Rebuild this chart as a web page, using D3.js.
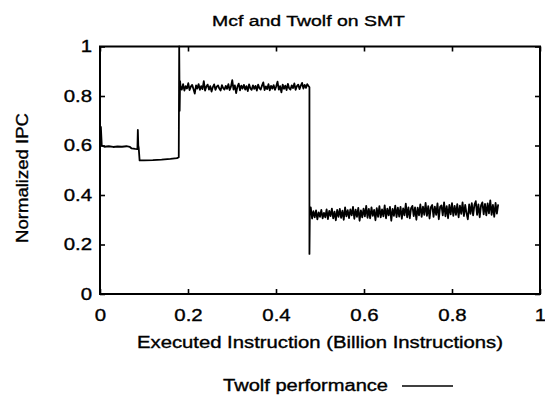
<!DOCTYPE html>
<html lang="en">
<head>
<meta charset="UTF-8">
<title>Mcf and Twolf on SMT</title>
<script src="https://d3js.org/d3.v7.min.js"></script>
<style>
  html, body { margin: 0; padding: 0; background: #fff; }
  svg text { font-family: "Liberation Sans", Arial, sans-serif; fill: #000; stroke: #000; stroke-width: 0.35px; }
</style>
</head>
<body>
<svg id="chart" width="545" height="401"></svg>
<script>
// axis ticks
const xTicks = [0, 0.2, 0.4, 0.6, 0.8, 1];
const yTicks = [0, 0.2, 0.4, 0.6, 0.8, 1];

// start-up phases, read point by point: [instructions (billions), normalized IPC]
const startPoints = [
  [0, 0.6], [0.002, 0.675], [0.004, 0.6], [0.01, 0.595], [0.02, 0.597], [0.03, 0.594],
  [0.04, 0.596], [0.05, 0.595], [0.06, 0.597], [0.068, 0.594], [0.072, 0.588],
  [0.08, 0.586], [0.085, 0.585], [0.086, 0.663], [0.087, 0.6], [0.088, 0.59],
  [0.09, 0.54], [0.1, 0.54], [0.12, 0.541], [0.14, 0.543], [0.16, 0.546],
  [0.175, 0.549], [0.179, 0.553], [0.18, 1.0], [0.181, 0.74], [0.182, 0.86]
];

// high phase (0.183 .. 0.474), evenly spaced samples
const highRange = [0.183, 0.474];
const highValues = [
  0.84,0.826,0.848,0.822,0.84,0.83,0.852,0.824,0.838,0.845,
  0.828,0.81,0.843,0.83,0.848,0.825,0.84,0.828,0.86,0.822,
  0.838,0.846,0.826,0.84,0.818,0.836,0.847,0.825,0.838,0.843,
  0.83,0.822,0.844,0.832,0.826,0.841,0.829,0.848,0.824,0.838,
  0.864,0.826,0.843,0.812,0.838,0.85,0.823,0.842,0.83,0.845,
  0.826,0.84,0.82,0.847,0.831,0.825,0.843,0.829,0.841,0.822,
  0.846,0.832,0.826,0.842,0.855,0.824,0.839,0.828,0.848,0.823,
  0.841,0.83,0.844,0.825,0.839,0.858,0.826,0.84,0.815,0.846,
  0.829,0.842,0.824,0.849,0.831,0.826,0.843,0.832,0.851,0.825,
  0.84,0.846,0.828,0.842,0.853,0.83,0.845,0.833,0.848,0.84
];

// the drop
const dropPoints = [[0.476, 0.835], [0.476, 0.162], [0.477, 0.35]];

// low phase (0.479 .. 0.905)
const lowRange = [0.479, 0.905];
const lowValues = [
  0.35,0.305,0.335,0.31,0.338,0.302,0.33,0.312,0.34,0.306,0.328,
  0.31,0.342,0.303,0.336,0.315,0.345,0.306,0.333,0.298,0.34,0.312,
  0.344,0.308,0.337,0.3,0.35,0.314,0.339,0.307,0.342,0.318,0.352,
  0.304,0.341,0.312,0.348,0.296,0.338,0.31,0.345,0.314,0.356,0.308,
  0.344,0.306,0.35,0.316,0.34,0.298,0.347,0.312,0.355,0.31,0.342,
  0.314,0.358,0.306,0.345,0.318,0.352,0.296,0.344,0.316,0.357,0.311,
  0.349,0.313,0.352,0.304,0.346,0.318,0.365,0.31,0.35,0.306,0.347,
  0.356,0.315,0.35,0.3,0.349,0.318,0.362,0.312,0.353,0.32,0.368,
  0.316,0.355,0.305,0.351,0.36,0.312,0.353,0.32,0.366,0.302,0.352,
  0.358,0.318,0.37,0.314,0.355,0.306,0.36,0.322,0.367,0.316,0.356,
  0.32,0.363,0.31,0.357,0.324,0.37,0.315,0.36,0.326,0.302,0.362,
  0.324,0.367,0.318,0.36,0.375,0.32,0.362,0.31,0.358,0.37,0.322,
  0.364,0.318,0.366,0.326,0.378,0.32,0.36,0.312,0.368,0.325,0.362
];

function spread(range, values) {
  const ix = d3.scaleLinear().domain([0, values.length - 1]).range(range);
  return values.map((v, i) => [ix(i), v]);
}

const series = [].concat(
  startPoints,
  spread(highRange, highValues),
  dropPoints,
  spread(lowRange, lowValues)
);

const svg = d3.select("#chart");
const plotL = 100, plotR = 540, plotT = 46.5, plotB = 294;

const x = d3.scaleLinear().domain([0, 1]).range([plotL, plotR]);
const y = d3.scaleLinear().domain([0, 1]).range([plotB, plotT]);
const fmt = d3.format("~g");

// data line
svg.append("path")
  .datum(series)
  .attr("fill", "none")
  .attr("stroke", "#000")
  .attr("stroke-width", 1.8)
  .attr("stroke-linejoin", "round")
  .attr("d", d3.line().x(d => x(d[0])).y(d => y(d[1])));

// axes, ticks pointing inward on all four sides
function styleAxis(g) {
  g.select(".domain").remove();
  g.selectAll(".tick line").attr("stroke", "#000").attr("stroke-width", 1.6);
  g.selectAll(".tick text")
    .attr("fill", "#000")
    .style("font-size", "17px")
    .each(function() {
      const w = this.getComputedTextLength();
      if (w > 0) d3.select(this).attr("textLength", w * 1.2).attr("lengthAdjust", "spacingAndGlyphs");
    });
}

svg.append("g")
  .attr("transform", `translate(0,${plotB})`)
  .call(d3.axisBottom(x).tickValues(xTicks).tickFormat(fmt).tickSize(-5).tickPadding(15))
  .call(styleAxis);

svg.append("g")
  .attr("transform", `translate(${plotL},0)`)
  .call(d3.axisLeft(y).tickValues(yTicks).tickFormat(fmt).tickSize(-5).tickPadding(8))
  .call(styleAxis);

svg.append("g")
  .attr("transform", `translate(0,${plotT})`)
  .call(d3.axisTop(x).tickValues(xTicks).tickFormat("").tickSize(-5))
  .call(styleAxis);

svg.append("g")
  .attr("transform", `translate(${plotR},0)`)
  .call(d3.axisRight(y).tickValues(yTicks).tickFormat("").tickSize(-5))
  .call(styleAxis);

// frame
svg.append("rect")
  .attr("x", plotL).attr("y", plotT)
  .attr("width", plotR - plotL).attr("height", plotB - plotT)
  .attr("fill", "none").attr("stroke", "#000").attr("stroke-width", 2);

// titles (the scanned lettering is wider than Arial, so stretch to the measured widths)
svg.append("text")
  .attr("x", 212).attr("y", 26)
  .attr("textLength", 193).attr("lengthAdjust", "spacingAndGlyphs")
  .style("font-size", "15.5px")
  .text("Mcf and Twolf on SMT");

svg.append("text")
  .attr("x", 137).attr("y", 348)
  .attr("textLength", 366).attr("lengthAdjust", "spacingAndGlyphs")
  .style("font-size", "16px")
  .text("Executed Instruction (Billion Instructions)");

svg.append("text")
  .attr("transform", `translate(28,243) rotate(-90)`)
  .attr("textLength", 130).attr("lengthAdjust", "spacingAndGlyphs")
  .style("font-size", "16.5px")
  .text("Normalized IPC");

// legend
svg.append("text")
  .attr("x", 223).attr("y", 391)
  .attr("textLength", 165).attr("lengthAdjust", "spacingAndGlyphs")
  .style("font-size", "16px")
  .text("Twolf performance");

svg.append("line")
  .attr("x1", 402).attr("x2", 453)
  .attr("y1", 386).attr("y2", 386)
  .attr("stroke", "#000").attr("stroke-width", 1.5);
</script>
</body>
</html>
